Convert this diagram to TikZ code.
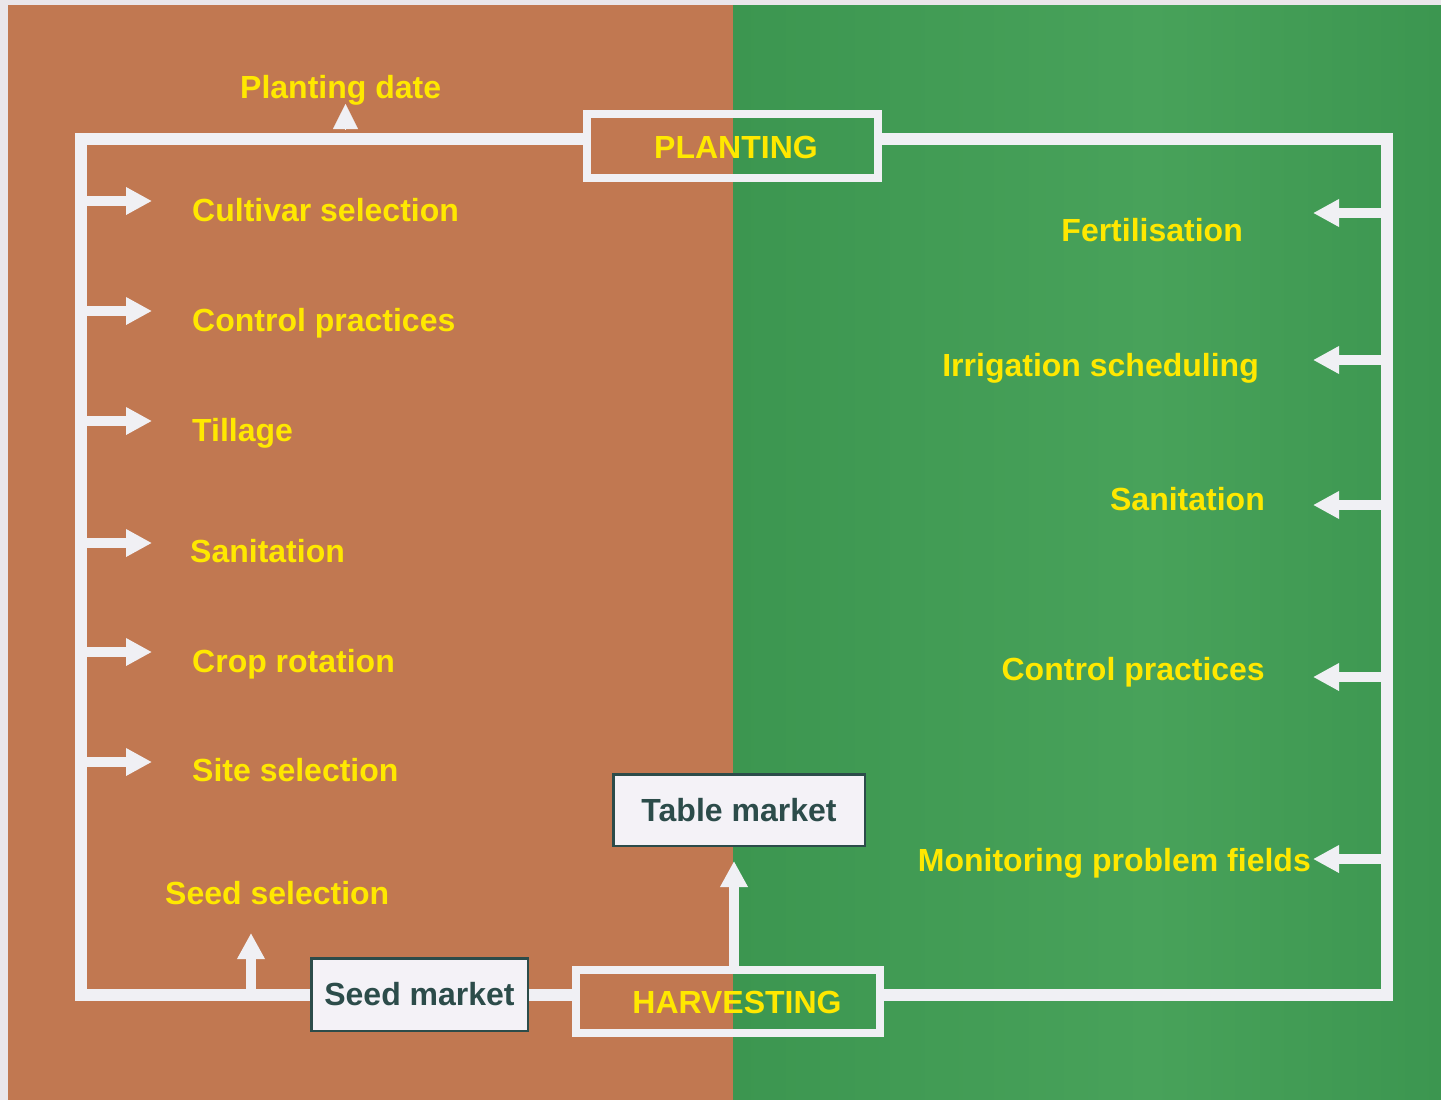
\documentclass[tikz,border=0pt]{standalone}
\usepackage{fontspec}
\setmainfont{Liberation Sans}
\usetikzlibrary{arrows.meta}
\definecolor{brownbg}{RGB}{193,120,81}
\definecolor{greenbg}{RGB}{60,150,80}
\definecolor{greenlt}{RGB}{72,162,90}
\definecolor{ylw}{RGB}{255,232,0}
\definecolor{boxtext}{RGB}{44,76,74}
\definecolor{boxfill}{RGB}{244,242,247}
\definecolor{loopw}{RGB}{240,240,244}
\definecolor{stripbg}{RGB}{234,230,234}
\pgfdeclarelayer{bg}
\pgfdeclarelayer{lines}
\pgfsetlayers{bg,lines,main}
\begin{document}
\begin{tikzpicture}[x=1pt,y=-1pt,
  loopline/.style={draw=loopw,line width=12pt,line join=miter},
  arr/.style={draw=loopw,line width=10pt,-{Triangle[width=26pt,length=26pt]}},
  lbl/.style={text=ylw,font=\fontsize{32}{38}\selectfont\bfseries,inner sep=0pt},
  stage/.style={draw=loopw,line width=8pt,inner sep=0pt},
  market/.style={draw=boxtext,line width=2.5pt,fill=boxfill,text=boxtext,
    font=\fontsize{32}{38}\selectfont\bfseries,inner sep=0pt}]
\useasboundingbox (0,0) rectangle (1441,1100);

\begin{pgfonlayer}{bg}
  \fill[stripbg] (0,0) rectangle (1441,1100);
  \fill[brownbg] (8,5) rectangle (733,1100);
  \shade[left color=greenbg,right color=greenlt] (733,5) rectangle (1150,1100);
  \shade[left color=greenlt,right color=greenbg] (1150,5) rectangle (1441,1100);
\end{pgfonlayer}

% stage and market boxes
\node[stage,minimum width=291pt,minimum height=64pt] (plant) at (732.5,146) {};
\node[lbl,anchor=base] (planttxt) at (736,158) {PLANTING};
\node[stage,minimum width=304pt,minimum height=63pt] (harv) at (728,1001.5) {};
\node[lbl,anchor=base] (harvtxt) at (737,1013) {HARVESTING};
\node[market,minimum width=216.5pt,minimum height=72.5pt] (seed) at (419.5,994.5) {Seed market};
\node[market,minimum width=251.5pt,minimum height=71.5pt] (table) at (739,810) {Table market};

% labels
\node[lbl,anchor=base west] (pdate) at (240,98) {Planting date};
\node[lbl,anchor=base west] (l1) at (192,221) {Cultivar selection};
\node[lbl,anchor=base west] (l2) at (192,331) {Control practices};
\node[lbl,anchor=base west] (l3) at (192,441) {Tillage};
\node[lbl,anchor=base west] (l4) at (190,562) {Sanitation};
\node[lbl,anchor=base west] (l5) at (192,672) {Crop rotation};
\node[lbl,anchor=base west] (l6) at (192,781) {Site selection};
\node[lbl,anchor=base west] (sdsel) at (165,904) {Seed selection};
\node[lbl,anchor=base east] (r1) at (1243,241) {Fertilisation};
\node[lbl,anchor=base east] (r2) at (1259,376) {Irrigation scheduling};
\node[lbl,anchor=base east] (r3) at (1265,510) {Sanitation};
\node[lbl,anchor=base east] (r4) at (1265,680) {Control practices};
\node[lbl,anchor=base east] (r5) at (1311,871) {Monitoring problem fields};

% loop corners
\coordinate (TL) at (80.5,139);
\coordinate (BL) at (80.5,995);
\coordinate (TR) at (1387,139);
\coordinate (BR) at (1387,995);

\begin{pgfonlayer}{lines}
  \draw[loopline] (plant.west |- TL) -- (TL) -- (BL) -- (seed.west |- BL);
  \draw[loopline] (seed.east |- BL) -- (harv.west |- BL);
  \draw[loopline] (harv.east |- BR) -- (BR) -- (TR) -- (plant.east |- TR);
  % left arrows
  \foreach \yy in {201,311,421,543,652,762}
    \draw[arr] (TL |- 0,\yy) -- (152,\yy);
  % right arrows
  \foreach \yy in {213,360,505,677,859}
    \draw[arr] (TR |- 0,\yy) -- (1313,\yy);
  % up arrows
  \draw[arr] (251,995) -- (251,933);
  \draw[arr] (734,966) -- (734,861);
  \draw[draw=loopw,line width=0.1pt,-{Triangle[width=25pt,length=25pt]}] (345.5,129) -- (345.5,104);
\end{pgfonlayer}
\end{tikzpicture}
\end{document}
